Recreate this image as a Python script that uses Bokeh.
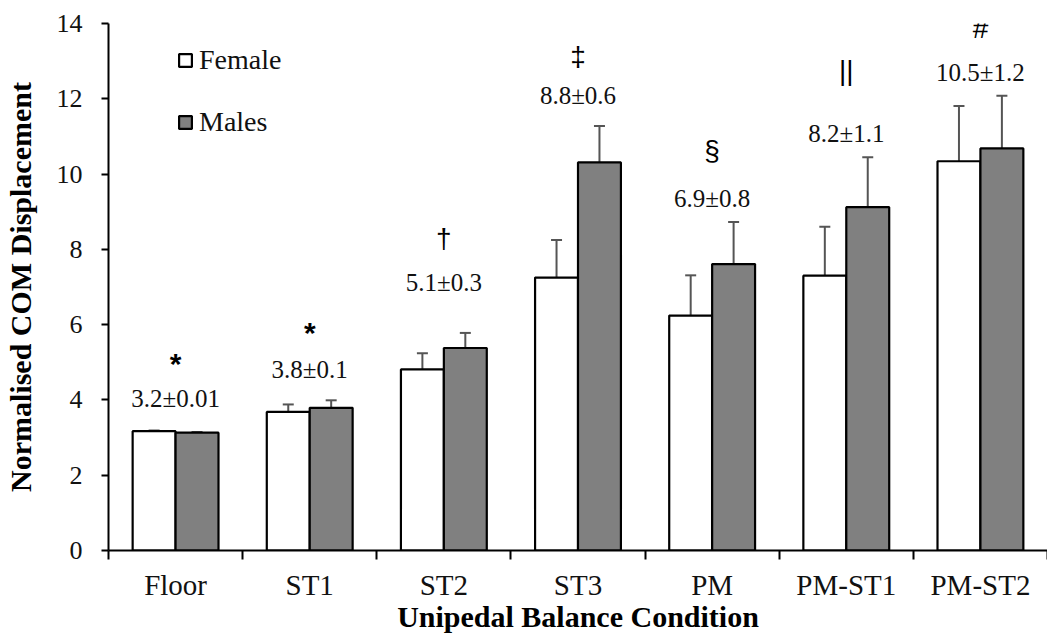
import numpy as np
from bokeh.plotting import figure
from bokeh.models import (ColumnDataSource, Whisker, TeeHead, FixedTicker, Range1d)
from bokeh.core.properties import value
from bokeh.embed import file_html
from bokeh.resources import INLINE

# ---------------- data ----------------
conditions = ["Floor", "ST1", "ST2", "ST3", "PM", "PM-ST1", "PM-ST2"]
female = [3.17, 3.68, 4.81, 7.25, 6.24, 7.30, 10.34]
female_err = [0.02, 0.20, 0.43, 1.00, 1.07, 1.30, 1.47]
male = [3.13, 3.79, 5.38, 10.31, 7.61, 9.12, 10.68]
male_err = [0.02, 0.20, 0.40, 0.97, 1.12, 1.33, 1.40]
stats_text = ["3.2±0.01", "3.8±0.1", "5.1±0.3", "8.8±0.6", "6.9±0.8", "8.2±1.1", "10.5±1.2"]
stats_y = [4.05, 4.80, 7.11, 12.10, 9.36, 11.09, 12.70]
symbols = ["*", "*", "†", "‡", "§", "||", "#"]
symbols_y = [4.97, 5.79, 8.30, 13.12, 10.62, 12.75, 13.87]
y_ticks = [0, 2, 4, 6, 8, 10, 12, 14]

# ---------------- layout helpers ----------------
idx = np.arange(len(conditions))
centers = idx + 0.5
bar_w = 0.32
f_x = centers - bar_w / 2
m_x = centers + bar_w / 2

fsrc = ColumnDataSource(dict(x=f_x, top=female,
                             lo=np.array(female) - np.array(female_err),
                             hi=np.array(female) + np.array(female_err)))
msrc = ColumnDataSource(dict(x=m_x, top=male,
                             lo=np.array(male) - np.array(male_err),
                             hi=np.array(male) + np.array(male_err)))
asrc = ColumnDataSource(dict(x=centers, ty=stats_y, txt=stats_text))
ast_src = ColumnDataSource(dict(x=[c for c, s in zip(centers, symbols) if s == "*"],
                                y=[y for y, s in zip(symbols_y, symbols) if s == "*"],
                                t=[s for s in symbols if s == "*"]))
oth_src = ColumnDataSource(dict(x=[c for c, s in zip(centers, symbols) if s != "*"],
                                y=[y for y, s in zip(symbols_y, symbols) if s != "*"],
                                t=[s for s in symbols if s != "*"]))

p = figure(width=1047, height=635, output_backend="svg", toolbar_location=None,
           x_range=Range1d(0, len(conditions)), y_range=Range1d(0, 14),
           min_border_left=103, min_border_right=0, min_border_top=23,
           min_border_bottom=84)
p.outline_line_color = None
p.xgrid.grid_line_color = None
p.ygrid.grid_line_color = None
p.background_fill_color = "white"
p.border_fill_color = "white"

rf = p.vbar(x="x", top="top", width=bar_w, bottom=0, source=fsrc,
            fill_color="white", line_color="black", line_width=2.2,
            legend_label="Female")
rm = p.vbar(x="x", top="top", width=bar_w, bottom=0, source=msrc,
            fill_color="#808080", line_color="black", line_width=2.2,
            legend_label="Males")

for src in (fsrc, msrc):
    w = Whisker(source=src, base="x", upper="hi", lower="lo",
                line_color="#555555", line_width=2,
                upper_head=TeeHead(size=11, line_color="#555555", line_width=2),
                lower_head=TeeHead(size=11, line_color="#555555", line_width=2))
    p.add_layout(w)

p.text(x="x", y="ty", text="txt", source=asrc, text_align="center",
       text_baseline="middle", text_font=value("Liberation Serif"),
       text_font_size="25px", text_color="#111111")
p.text(x="x", y="y", text="t", source=ast_src, text_align="center",
       text_baseline="middle", text_font=value("Liberation Sans"),
       text_font_style="bold", text_font_size="30px", text_color="#000000")
p.text(x="x", y="y", text="t", source=oth_src, text_align="center",
       text_baseline="middle", text_font=value("Liberation Sans"),
       text_font_size="28px", text_color="#000000")

# axes
xa = p.xaxis[0]
xa.ticker = FixedTicker(ticks=list(centers), minor_ticks=list(np.arange(len(conditions) + 1)))
xa.major_label_overrides = {float(c): n for c, n in zip(centers, conditions)}
xa.major_tick_out = 0
xa.major_tick_in = 0
xa.minor_tick_out = 9
xa.minor_tick_in = 0
xa.minor_tick_line_color = "black"
xa.minor_tick_line_width = 2
xa.axis_line_color = "black"
xa.axis_line_width = 2
xa.major_label_standoff = 9
xa.major_label_text_font = "Liberation Serif"
xa.major_label_text_font_size = "29px"
xa.major_label_text_color = "#111111"
xa.axis_label = "Unipedal Balance Condition"
xa.axis_label_text_font = "Liberation Serif"
xa.axis_label_text_font_style = "bold"
xa.axis_label_text_font_size = "30px"
xa.axis_label_text_color = "#000000"
xa.axis_label_standoff = -4

ya = p.yaxis[0]
ya.ticker = FixedTicker(ticks=y_ticks)
ya.major_tick_out = 7
ya.major_tick_in = 0
ya.major_tick_line_width = 2
ya.minor_tick_line_color = None
ya.axis_line_color = "black"
ya.axis_line_width = 2
ya.major_label_standoff = 19
ya.major_label_text_font = "Liberation Serif"
ya.major_label_text_font_size = "26px"
ya.major_label_text_color = "#111111"
ya.axis_label = "Normalised COM Displacement"
ya.axis_label_text_font = "Liberation Serif"
ya.axis_label_text_font_style = "bold"
ya.axis_label_text_font_size = "30px"
ya.axis_label_text_color = "#000000"
ya.axis_label_standoff = 17

lg = p.legend[0]
lg.location = (69, 412)
lg.border_line_color = None
lg.background_fill_alpha = 0
lg.padding = 0
lg.margin = 0
lg.spacing = 30
lg.glyph_width = 16
lg.glyph_height = 16
lg.label_standoff = 6
lg.label_text_font = "Liberation Serif"
lg.label_text_font_size = "28px"
lg.label_text_color = "#111111"

open("out.html", "w").write(file_html(p, INLINE))
